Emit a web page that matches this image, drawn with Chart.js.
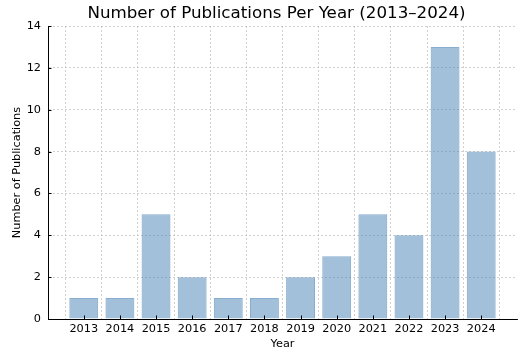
<!DOCTYPE html>
<html>
<head>
<meta charset="utf-8">
<script src="https://cdn.jsdelivr.net/npm/chart.js@4.4.1/dist/chart.umd.min.js"></script>
<style>
  html, body { margin: 0; padding: 0; background: #fff; }
  #wrap { width: 530px; height: 355px; }
</style>
</head>
<body>
<div id="wrap"><canvas id="pubs"></canvas></div>
<script>
const years = ['2013', '2014', '2015', '2016', '2017', '2018', '2019', '2020', '2021', '2022', '2023', '2024'];
const publications = [1, 1, 5, 2, 1, 1, 2, 3, 5, 4, 13, 8];
const yTicks = [0, 2, 4, 6, 8, 10, 12, 14];
const chartTitle = 'Number of Publications Per Year (2013\u20132024)';

const points = years.map(function (y, i) {
    return { x: i, y: publications[i] };
});

const gridStyle = {
    color: 'rgba(190,190,190,0.9)',
    lineWidth: 0.8,
    drawTicks: false
};
const borderStyle = { display: true, color: '#000', width: 1, dash: [2, 2] };

// small inward tick marks like the original figure
const innerTicks = {
    id: 'innerTicks',
    afterDatasetsDraw: function (chart) {
        const ctx = chart.ctx;
        const x = chart.scales.x, y = chart.scales.y;
        const a = chart.chartArea;
        ctx.save();
        ctx.strokeStyle = '#000';
        ctx.lineWidth = 1;
        ctx.beginPath();
        x.ticks.forEach(function (t) {
            const px = Math.round(x.getPixelForValue(t.value)) + 0.5;
            ctx.moveTo(px, a.bottom);
            ctx.lineTo(px, a.bottom - 3.5);
        });
        y.ticks.forEach(function (t) {
            const py = Math.round(y.getPixelForValue(t.value)) + 0.5;
            ctx.moveTo(a.left, py);
            ctx.lineTo(a.left + 3.5, py);
        });
        ctx.stroke();
        ctx.restore();
    }
};

// title, sitting a bit left of the plot centre as in the original
const topTitle = {
    id: 'topTitle',
    afterDraw: function (chart) {
        const ctx = chart.ctx;
        const a = chart.chartArea;
        ctx.save();
        ctx.fillStyle = '#000';
        ctx.font = '16.7px "DejaVu Sans"';
        ctx.textAlign = 'center';
        ctx.textBaseline = 'middle';
        ctx.fillText(chartTitle, (a.left + a.right) / 2 - 6, 14);
        ctx.restore();
    }
};

new Chart(document.getElementById('pubs'), {
    type: 'bar',
    data: {
        datasets: [{
            data: points,
            backgroundColor: 'rgba(70,130,180,0.5)',
            borderColor: 'rgba(70,130,180,0.65)',
            borderWidth: 1,
            categoryPercentage: 0.8,
            barPercentage: 1.0
        }]
    },
    plugins: [innerTicks, topTitle],
    options: {
        responsive: true,
        maintainAspectRatio: false,
        animation: false,
        layout: { padding: { left: 0, right: 13, top: 26, bottom: 0 } },
        plugins: {
            legend: { display: false },
            tooltip: { enabled: false },
            title: { display: false }
        },
        scales: {
            x: {
                type: 'linear',
                offset: false,
                min: -0.99,
                max: 11.99,
                grid: gridStyle,
                border: borderStyle,
                afterBuildTicks: function (scale) {
                    scale.ticks = years.map(function (y, i) { return { value: i }; });
                },
                ticks: {
                    color: '#000',
                    padding: 3,
                    font: { family: 'DejaVu Sans', size: 11.3 },
                    maxRotation: 0,
                    autoSkip: false,
                    callback: function (v) { return years[v]; }
                },
                title: {
                    display: true,
                    text: 'Year',
                    color: '#000',
                    font: { family: 'DejaVu Sans', size: 11.3 },
                    padding: { top: 0, bottom: 4 }
                },
                afterFit: function (scale) { scale.height = 36; }
            },
            y: {
                min: 0,
                max: 14,
                grid: gridStyle,
                border: borderStyle,
                afterBuildTicks: function (scale) {
                    scale.ticks = yTicks.map(function (v) { return { value: v }; });
                },
                ticks: {
                    color: '#000',
                    padding: 7,
                    font: { family: 'DejaVu Sans', size: 11.3 }
                },
                title: {
                    display: true,
                    text: 'Number of Publications',
                    color: '#000',
                    font: { family: 'DejaVu Sans', size: 11.3 },
                    padding: { top: 10, bottom: 0 }
                },
                afterFit: function (scale) { scale.width = 48; }
            }
        }
    }
});
</script>
</body>
</html>
